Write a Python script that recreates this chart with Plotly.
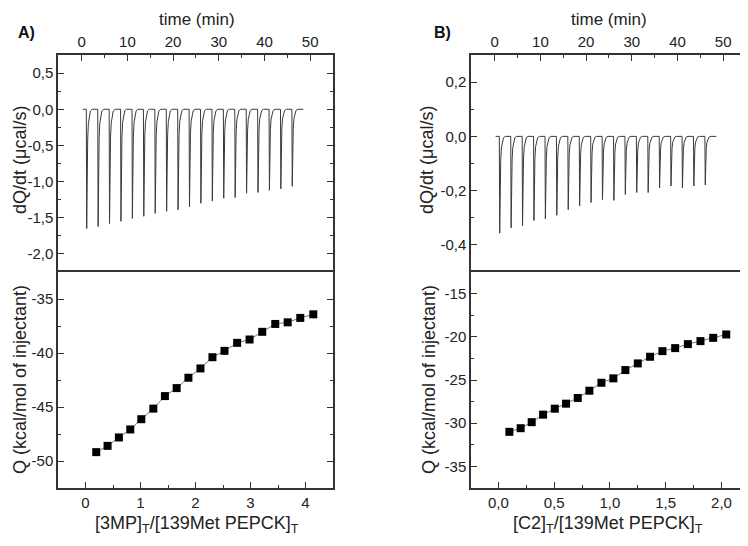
import plotly.graph_objects as go

# ---- data ----
# raw ITC thermograms: injection times (min) and peak minima (ucal/s)
inj_time = [1.0 + 2.5 * i for i in range(19)]
peaks_a = [-1.65, -1.62, -1.58, -1.55, -1.51, -1.48, -1.44, -1.41, -1.39, -1.35,
           -1.30, -1.27, -1.23, -1.22, -1.16, -1.15, -1.12, -1.10, -1.065]
peaks_b = [-0.357, -0.337, -0.330, -0.310, -0.304, -0.291, -0.270, -0.256, -0.244, -0.233,
           -0.236, -0.214, -0.207, -0.207, -0.190, -0.183, -0.190, -0.183, -0.179]
# shape of one injection peak (time after injection, fraction of peak depth)
peak_dt = [0.0, 0.08, 0.12, 0.2, 0.3, 0.45, 0.65, 0.9, 1.3]
peak_frac = [0.0, 1.0, 0.75, 0.45, 0.25, 0.12, 0.05, 0.015, 0.0]
trace_start = 0.2
trace_end = 48.5

# integrated heats
ratio_a = [0.195, 0.401, 0.607, 0.814, 1.015, 1.233, 1.444, 1.657, 1.871, 2.09,
           2.308, 2.527, 2.757, 2.983, 3.213, 3.45, 3.676, 3.905, 4.142]
heat_a = [-49.18, -48.60, -47.82, -47.08, -46.13, -45.15, -43.99, -43.25, -42.29, -41.43,
          -40.39, -39.80, -39.06, -38.75, -38.04, -37.31, -37.16, -36.75, -36.42]
ratio_b = [0.099, 0.200, 0.299, 0.401, 0.506, 0.607, 0.712, 0.816, 0.924, 1.031,
           1.139, 1.250, 1.360, 1.471, 1.585, 1.699, 1.812, 1.926, 2.043]
heat_b = [-31.0, -30.58, -29.88, -29.01, -28.32, -27.74, -27.08, -26.24, -25.32, -24.81,
          -23.85, -23.08, -22.31, -21.66, -21.31, -20.85, -20.50, -20.12, -19.73]

# tick labels
time_ticks = [0, 10, 20, 30, 40, 50]
time_text = ["0", "10", "20", "30", "40", "50"]
dq_a_ticks = [0.5, 0.0, -0.5, -1.0, -1.5, -2.0]
dq_a_text = ["0,5", "0,0", "-0,5", "-1,0", "-1,5", "-2,0"]
q_a_ticks = [-35, -40, -45, -50]
q_a_text = ["-35", "-40", "-45", "-50"]
r_a_ticks = [0, 1, 2, 3, 4]
r_a_text = ["0", "1", "2", "3", "4"]
dq_b_ticks = [0.2, 0.0, -0.2, -0.4]
dq_b_text = ["0,2", "0,0", "-0,2", "-0,4"]
q_b_ticks = [-15, -20, -25, -30, -35]
q_b_text = ["-15", "-20", "-25", "-30", "-35"]
r_b_ticks = [0.0, 0.5, 1.0, 1.5, 2.0]
r_b_text = ["0,0", "0,5", "1,0", "1,5", "2,0"]


def thermogram(peaks):
    t, y = [trace_start], [0.0]
    for t0, depth in zip(inj_time, peaks):
        for dt, fr in zip(peak_dt, peak_frac):
            t.append(t0 + dt)
            y.append(depth * fr)
    t.append(trace_end)
    y.append(0.0)
    return t, y


FONT = "Liberation Sans, Arial, sans-serif"
LINE = "#333333"

# the page body adds an 8px margin, so the figure is drawn 8px smaller
OFF = 8
W, H = 748 - OFF, 546 - OFF


def px(x):
    return (x - OFF) / W


def py(y):
    return 1 - (y - OFF) / H


fig = go.Figure()

ta, ya = thermogram(peaks_a)
tb, yb = thermogram(peaks_b)
fig.add_trace(go.Scatter(x=ta, y=ya, mode="lines", line=dict(color="#3a3a3a", width=1),
                         xaxis="x", yaxis="y", showlegend=False))
fig.add_trace(go.Scatter(x=ratio_a, y=heat_a, mode="lines+markers",
                         line=dict(color="#777777", width=1),
                         marker=dict(symbol="square", size=8, color="black"),
                         xaxis="x2", yaxis="y2", showlegend=False))
fig.add_trace(go.Scatter(x=tb, y=yb, mode="lines", line=dict(color="#3a3a3a", width=1),
                         xaxis="x3", yaxis="y3", showlegend=False))
fig.add_trace(go.Scatter(x=ratio_b, y=heat_b, mode="lines+markers",
                         line=dict(color="#777777", width=1),
                         marker=dict(symbol="square", size=8, color="black"),
                         xaxis="x4", yaxis="y4", showlegend=False))


def ax(domain, rng, vals, text, minor_dtick, anchor, side, mirror):
    return dict(domain=domain, range=rng, anchor=anchor, side=side, automargin=False,
                tickmode="array", tickvals=vals, ticktext=text,
                ticks="inside", ticklen=6, tickwidth=1.2, tickcolor=LINE,
                minor=dict(tickmode="linear", tick0=0, dtick=minor_dtick,
                           ticks="inside", ticklen=3, tickwidth=1, tickcolor=LINE),
                showline=True, linecolor=LINE, linewidth=1.5, mirror=mirror,
                showgrid=False, zeroline=False,
                tickfont=dict(family=FONT, size=15, color="#222"))


xa = [px(58), px(333)]
xb = [px(471), px(746)]
ytop = [py(272), py(55)]
ybot = [py(488), py(272)]

fig.update_layout(
    template="none",
    width=W, height=H,
    margin=dict(l=0, r=0, t=0, b=0),
    paper_bgcolor="white", plot_bgcolor="white",
    xaxis=ax(xa, [-5.2, 55], time_ticks, time_text, 5, "y", "top", False),
    yaxis=ax(ytop, [-2.25, 0.75], dq_a_ticks, dq_a_text, 0.25, "x", "left", "ticks"),
    xaxis2=ax(xa, [-0.5, 4.5], r_a_ticks, r_a_text, 0.5, "y2", "bottom", True),
    yaxis2=ax(ybot, [-52.5, -32.5], q_a_ticks, q_a_text, 2.5, "x2", "left", "ticks"),
    xaxis3=ax(xb, [-5.2, 55], time_ticks, time_text, 5, "y3", "top", False),
    yaxis3=ax(ytop, [-0.5, 0.3], dq_b_ticks, dq_b_text, 0.1, "x3", "left", "ticks"),
    xaxis4=ax(xb, [-0.245, 2.22], r_b_ticks, r_b_text, 0.25, "y4", "bottom", True),
    yaxis4=ax(ybot, [-37.5, -12.5], q_b_ticks, q_b_text, 2.5, "x4", "left", "ticks"),
)

title_font = dict(family=FONT, size=18, color="#222")
top_font = dict(family=FONT, size=17, color="#222")
notes = [
    dict(text="<b>A)</b>", x=px(26), y=py(33), font=dict(family=FONT, size=16, color="#111")),
    dict(text="<b>B)</b>", x=px(442), y=py(33), font=dict(family=FONT, size=16, color="#111")),
    dict(text="time (min)", x=px(197), y=py(OFF), yanchor="top", font=top_font),
    dict(text="time (min)", x=px(609), y=py(OFF), yanchor="top", font=top_font),
    dict(text="dQ/dt (μcal/s)", x=px(OFF), y=py(160), xanchor="left", textangle=-90, font=title_font),
    dict(text="Q (kcal/mol of injectant)", x=px(OFF), y=py(380), xanchor="left", textangle=-90,
         font=title_font),
    dict(text="dQ/dt (μcal/s)", x=px(427), y=py(160), textangle=-90, font=title_font),
    dict(text="Q (kcal/mol of injectant)", x=px(429), y=py(380), textangle=-90, font=title_font),
    dict(text="[3MP]<sub>T</sub>/[139Met PEPCK]<sub>T</sub>", x=px(197), y=py(524), font=title_font),
    dict(text="[C2]<sub>T</sub>/[139Met PEPCK]<sub>T</sub>", x=px(608), y=py(524), font=title_font),
]
for n in notes:
    n.setdefault("xanchor", "center")
    n.setdefault("yanchor", "middle")
    fig.add_annotation(xref="paper", yref="paper", showarrow=False, **n)

fig.write_html("out.html")
